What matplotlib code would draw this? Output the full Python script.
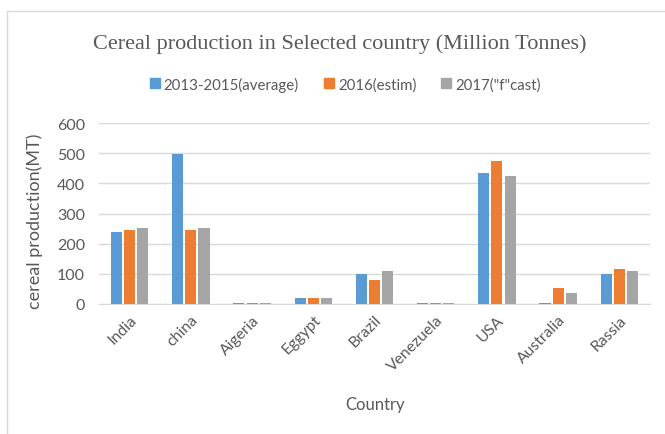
import matplotlib
matplotlib.use("Agg")
import matplotlib.pyplot as plt
import numpy as np
from matplotlib.lines import Line2D

countries = ["India", "china", "Aigeria", "Eggypt", "Brazil", "Venezuela", "USA", "Australia", "Rassia"]
avg_2013_2015 = [238, 498, 2, 21, 98, 2, 433, 2, 98]
est_2016 = [244, 244, 2, 21, 78, 2, 473, 52, 116]
fcast_2017 = [252, 252, 2, 21, 109, 2, 425, 35, 109]
series_names = ["2013-2015(average)", "2016(estim)", "2017(\"f\"cast)"]
colors = ["#5B9BD5", "#ED7D31", "#A5A5A5"]
yticks = [0, 100, 200, 300, 400, 500, 600]

sans = ["Lato", "DejaVu Sans"]
txt = "#595959"

fig = plt.figure(figsize=(6.65, 4.35), dpi=100)
ax = fig.add_axes([99/665, 1 - 305/435, (650-99)/665, (305-124)/435])

x = np.arange(len(countries))
w = 0.18
gap = 0.035
for i, (vals, c, n) in enumerate(zip([avg_2013_2015, est_2016, fcast_2017], colors, series_names)):
    ax.bar(x + (i - 1) * (w + gap), vals, width=w, color=c, label=n, zorder=3)

ax.set_xlim(-0.5, len(countries) - 0.5)
ax.set_ylim(0, 600)
ax.set_yticks(yticks)
ax.set_yticklabels([str(v) for v in yticks], fontfamily=sans, fontsize=11.5, color=txt)
ax.set_xticks(x)
ax.set_xticklabels(countries, rotation=45, ha="right", rotation_mode="anchor",
                   fontfamily=sans, fontsize=11.3, color=txt)
ax.tick_params(axis="both", length=0, pad=6)
ax.tick_params(axis="y", pad=10)
ax.grid(axis="y", color="#D9D9D9", linewidth=1, zorder=0)
for s in ["top", "right", "left"]:
    ax.spines[s].set_visible(False)
ax.spines["bottom"].set_color("#D9D9D9")

ax.set_ylabel("cereal production(MT)", fontfamily=sans, fontsize=13, color=txt)
ax.yaxis.set_label_coords(-(99 - 43) / (650 - 99), (305 - 221) / (305 - 124))
fig.text(375/665, 1 - 405/435, "Country", ha="center", va="center", fontfamily=sans, fontsize=12, color=txt)

fig.text(340/665, 1 - 44/435, "Cereal production in Selected country (Million Tonnes)",
         ha="center", va="center", fontfamily="Liberation Serif", fontsize=16, color="#595959")

handles = [Line2D([0], [0], marker="s", linestyle="none", markersize=7, markerfacecolor=c,
                  markeredgecolor=c) for c in colors]
fig.legend(handles, series_names, loc="center", bbox_to_anchor=(344/665, 1 - 85/435), ncol=3,
           frameon=False, prop={"family": sans, "size": 10.8}, labelcolor=txt,
           handletextpad=0.1, columnspacing=1.5, handlelength=1.0)

# outer frame (left and top visible)
fig.add_artist(Line2D([7/665, 7/665], [0, 1 - 12/435], color="#D9D9D9", linewidth=1, transform=fig.transFigure))
fig.add_artist(Line2D([7/665, 1], [1 - 12/435, 1 - 12/435], color="#D9D9D9", linewidth=1, transform=fig.transFigure))

fig.savefig("out.png", dpi=100)
